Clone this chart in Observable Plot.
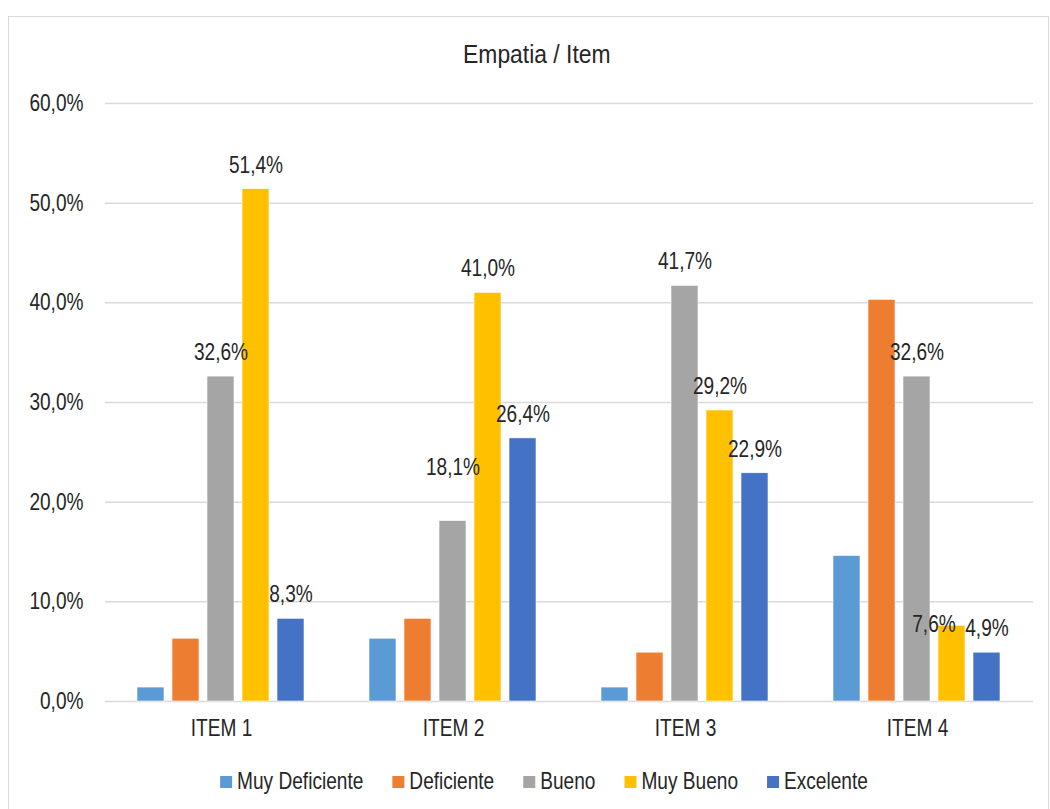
<!DOCTYPE html>
<html>
<head>
<meta charset="utf-8">
<script src="https://cdn.jsdelivr.net/npm/d3@7"></script>
<script src="https://cdn.jsdelivr.net/npm/@observablehq/plot@0.6"></script>
<style>
  html, body { margin: 0; padding: 0; background: #fff; }
  body { width: 1050px; height: 809px; position: relative; overflow: hidden;
         font-family: "Liberation Sans", Arial, sans-serif; color: #262626; }
  #frame { position: absolute; left: 8px; top: 16px; width: 1041px; height: 800px;
           border: 1px solid #d9d9d9; box-sizing: border-box; }
  #title { position: absolute; left: 12px; width: 1050px; top: 39px; text-align: center; font-size: 26px; line-height: 30px; }
  #title span { display: inline-block; transform: scaleX(0.88); transform-origin: 50% 50%; }
  #chart { position: absolute; left: 8px; top: 80px; }
  #legend { position: absolute; left: 0; top: 762px; }
</style>
</head>
<body>
<div id="frame"></div>
<div id="title"><span>Empatia / Item</span></div>
<div id="chart"></div>
<svg id="legend" width="1050" height="40"></svg>
<script>
const items = ["ITEM 1", "ITEM 2", "ITEM 3", "ITEM 4"];
const series = ["Muy Deficiente", "Deficiente", "Bueno", "Muy Bueno", "Excelente"];
const muyDeficiente = [1.4, 6.3, 1.4, 14.6];
const deficiente = [6.3, 8.3, 4.9, 40.3];
const bueno = [32.6, 18.1, 41.7, 32.6];
const muyBueno = [51.4, 41.0, 29.2, 7.6];
const excelente = [8.3, 26.4, 22.9, 4.9];
const labelledSeries = ["Bueno", "Muy Bueno", "Excelente"];
const yTicks = [0, 10, 20, 30, 40, 50, 60];

const colors = ["#5b9bd5", "#ed7d31", "#a5a5a5", "#ffc000", "#4472c4"];
const valuesBySeries = [muyDeficiente, deficiente, bueno, muyBueno, excelente];

const data = [];
series.forEach((s, si) => items.forEach((it, ii) => data.push({item: it, series: s, value: valuesBySeries[si][ii]})));

const fmt = v => v.toFixed(1).replace(".", ",") + "%";
const NARROW = 0.83;   // horizontal squeeze to imitate a narrow typeface
const FS = 23;

// label placement tweaks (style only)
const nudges = {"ITEM 2|Bueno": {dx: 0, dy: -53}, "ITEM 4|Muy Bueno": {dx: -18, dy: -1}};
const labelData = data.filter(d => labelledSeries.includes(d.series));
const key = d => d.item + "|" + d.series;
const plainLabels = labelData.filter(d => !nudges[key(d)]);

const textStyle = {fx: "item", x: "series", y: "value", text: d => fmt(d.value),
                   fontSize: FS, fill: "#262626", lineAnchor: "middle"};

const marks = [
  Plot.gridY(yTicks, {stroke: "#d9d9d9", strokeOpacity: 1, strokeWidth: 1.5}),
  Plot.barY(data, {fx: "item", x: "series", y: "value", fill: "series", stroke: "#fff", strokeWidth: 0.6}),
  Plot.text(plainLabels, {...textStyle, dy: -24}),
  ...Object.entries(nudges).map(([k, n]) =>
    Plot.text(labelData.filter(d => key(d) === k), {...textStyle, dx: n.dx, dy: n.dy})),
  Plot.axisY(yTicks, {tickSize: 0, tickPadding: 22, tickFormat: fmt, fontSize: FS, label: null}),
  Plot.axisFx({anchor: "bottom", tickSize: 0, tickPadding: 18, fontSize: FS, label: null})
];

const chart = Plot.plot({
  width: 1040,
  height: 670,
  marginLeft: 96,
  marginRight: 15,
  marginTop: 23,
  marginBottom: 49,
  style: {fontFamily: '"Liberation Sans", Arial, sans-serif', color: "#262626", background: "transparent", overflow: "visible"},
  fx: {domain: items, padding: 0, label: null},
  x: {domain: series, axis: null, paddingInner: 0.218, paddingOuter: 0.856},
  y: {domain: [0, 60], axis: null},
  color: {domain: series, range: colors},
  marks
});
document.getElementById("chart").appendChild(chart);

// squeeze every text horizontally around its own anchor
chart.querySelectorAll("text").forEach(t => {
  const x = +(t.getAttribute("x") || 0);
  const tr = t.getAttribute("transform") || "";
  t.setAttribute("transform", `${tr} translate(${x},0) scale(${NARROW},1) translate(${-x},0)`);
});

// legend
const legend = d3.select("#legend");
const groups = series.map((s, i) => {
  const g = legend.append("g");
  g.append("rect").attr("width", 12).attr("height", 12).attr("y", 14).attr("fill", colors[i]);
  const t = g.append("text").text(s).attr("font-size", FS).attr("fill", "#262626").attr("y", 27)
    .attr("font-family", '"Liberation Sans", Arial, sans-serif');
  const w = t.node().getComputedTextLength() * NARROW;
  t.attr("transform", `translate(17,0) scale(${NARROW},1)`);
  return {g, w: 17 + w};
});
const gap = 29;
const total = d3.sum(groups, d => d.w) + gap * (groups.length - 1);
let x0 = 544 - total / 2;
groups.forEach(d => { d.g.attr("transform", `translate(${x0},0)`); x0 += d.w + gap; });
</script>
</body>
</html>
